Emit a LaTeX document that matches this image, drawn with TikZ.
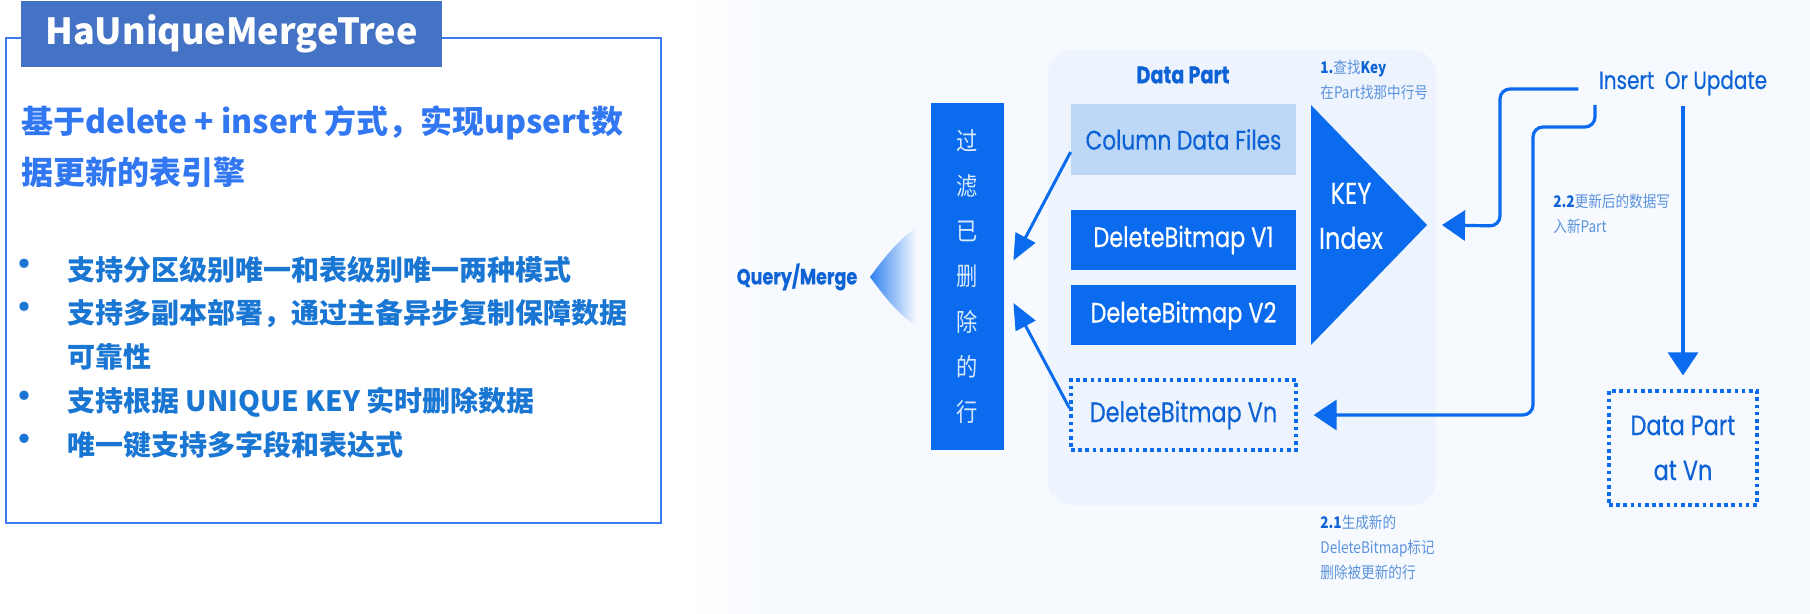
\documentclass[tikz,border=0pt]{standalone}
\usepackage{fontspec}
\setmainfont{Noto Sans CJK SC}
\newfontfamily\dgfont{Poppins}[FakeStretch=0.8, FakeBold=0.4]
\newfontfamily\dgcjk{Noto Sans CJK SC}[FakeStretch=0.85]
\usetikzlibrary{positioning,arrows.meta,calc}
\definecolor{titleblue}{HTML}{4472C4}
\definecolor{frameblue}{HTML}{3B7BEF}
\definecolor{headblue}{HTML}{3277F2}
\definecolor{listblue}{HTML}{1A76D3}
\definecolor{dpblue}{HTML}{0A6BEE}
\definecolor{inkblue}{HTML}{0D63D6}
\definecolor{paleblue}{HTML}{BDD7F6}
\definecolor{partbg}{HTML}{EEF4FD}
\definecolor{bgtint}{HTML}{F6F9FE}
\definecolor{notegrey}{HTML}{5C93DD}
\tikzset{
  titlebox/.style={rectangle, fill=titleblue, text=white, inner sep=0pt,
                   font=\bfseries\fontsize{18}{22}\selectfont,
                   minimum width=210.5pt, minimum height=33pt},
  headtxt/.style={anchor=west, align=left, text=headblue, inner sep=0pt,
                  font=\bfseries\fontsize{16}{25.5}\selectfont},
  itemtxt/.style={anchor=west, align=left, text=listblue, inner sep=0pt,
                  font=\bfseries\fontsize{14}{22}\selectfont},
  dotmark/.style={text=listblue, inner sep=0pt, font=\fontsize{22}{22}\selectfont},
  parttitle/.style={text=inkblue, font=\dgfont\bfseries\fontsize{12}{14}\selectfont},
  lightbox/.style={rectangle, fill=paleblue, text=inkblue, inner sep=0pt,
                   font=\dgfont\fontsize{13.5}{15}\selectfont,
                   minimum width=112.5pt, minimum height=35.5pt},
  solidbox/.style={lightbox, fill=dpblue, text=white, minimum height=30pt, font=\dgfont\fontsize{14}{15}\selectfont},
  dashbox/.style={rectangle, draw=dpblue, line width=1.6pt, dash pattern=on 1.8pt off 1.8pt,
                  text=inkblue, font=\dgfont\fontsize{14}{22.5}\selectfont, align=center,
                  minimum width=112.5pt, minimum height=35pt, inner sep=0pt},
  filterbar/.style={rectangle, fill=dpblue, text=white!85!dpblue, align=center,
                    font=\dgcjk\fontsize{12.5}{22.6}\selectfont,
                    minimum width=36.5pt, minimum height=173.5pt, inner sep=0pt},
  keytxt/.style={text=white, align=center, inner sep=0pt, font=\dgfont\fontsize{15}{22.5}\selectfont},
  note/.style={anchor=west, align=left, text=notegrey, inner sep=0pt,
               font=\dgcjk\fontsize{8}{12.5}\selectfont},
  qmtxt/.style={text=inkblue, font=\dgfont\bfseries\fontsize{11}{13}\selectfont},
  instxt/.style={text=inkblue, inner sep=0pt, font=\dgfont\fontsize{12.5}{14}\selectfont},
  flow/.style={draw=dpblue, line width=1.6pt, rounded corners=5pt,
               -{Triangle[length=11.5pt,width=15pt]}},
  gofilter/.style={draw=dpblue, line width=1.5pt, -{Triangle[length=13pt,width=11pt]}},
}
\begin{document}
\begin{tikzpicture}[x=0.5pt,y=-0.5pt]
  \useasboundingbox (0,0) rectangle (1810,614);

  % diagram background
  \shade[left color=white, right color=bgtint] (690,0) rectangle (780,614);
  \fill[bgtint] (780,0) rectangle (1810,614);

  % left panel
  \draw[frameblue, line width=1pt] (6,38) rectangle (661,523);
  \node[titlebox] (title) at (231.5,34) {HaUniqueMergeTree};
  \node[headtxt] (head) at (21,146.5) {基于delete + insert 方式，实现upsert数\\据更新的表引擎};
  \foreach \y in {270,313,402,445}
    \node[dotmark] (dot\y) at (25,\y) {•};
  \node[itemtxt] (item1) at (67,270) {支持分区级别唯一和表级别唯一两种模式};
  \node[itemtxt] (item2) at (67,335) {支持多副本部署，通过主备异步复制保障数据\\可靠性};
  \node[itemtxt] (item3) at (67,402) {支持根据 UNIQUE KEY 实时删除数据};
  \node[itemtxt] (item4) at (67,445) {唯一键支持多字段和表达式};

  % data part
  \fill[partbg, rounded corners=12pt] (1048,50) rectangle (1436,505);
  \node[parttitle] (dptitle) at (1183,75) {Data Part};
  \node[lightbox] (cdf) at (1183.5,139.5) {Column Data Files};
  \node[solidbox] (dbv1) at (1183.5,240) {DeleteBitmap V1};
  \node[solidbox] (dbv2) at (1183.5,315.5) {DeleteBitmap V2};
  \node[dashbox] (dbvn) at (1183.5,415) {DeleteBitmap Vn};
  \fill[dpblue] (1311,105) -- (1311,345) -- (1427,225) -- cycle;
  \coordinate (keyapex) at (1427,225);
  \node[keytxt] (keyidx) at (1351,216) {KEY\\Index};
  \node[note] (step1) at (1320,79.5) {\textbf{\color{inkblue}1.}查找\textbf{\color{inkblue}Key}\\在Part找那中行号};

  % filter and query
  \node[filterbar] (filt) at (967.5,276.5) {过\\滤\\已\\删\\除\\的\\行};
  \draw[gofilter] ([yshift=-6.25pt]cdf.west) -- ([xshift=4.5pt,yshift=8pt]filt.east);
  \draw[gofilter] ([yshift=3.5pt]dbvn.west) -- ([xshift=4.5pt,yshift=-13.25pt]filt.east);
  \shade[left color=dpblue!85, right color=bgtint] (870,277) .. controls (884,258) and (898,240) .. (916,228)
    -- (916,326) .. controls (898,314) and (884,296) .. (870,277) -- cycle;
  \node[qmtxt] (qm) at (797,277) {Query/Merge};

  % insert or update
  \node[instxt] (ins) at (1683,83) {Insert\ \ Or Update};
  \node[dashbox, minimum width=74pt, minimum height=57pt] (dpv) at (1683,448) {Data Part\\at Vn};
  \draw[flow] ([xshift=-10pt,yshift=-3pt]ins.west) -- (1500,89) -- (1500,226) -- ([xshift=7.5pt]keyapex);
  \draw[flow] (1595,105) -- (1595,127) -- (1533,127) -- (1533,415) -- ([xshift=8pt]dbvn.east);
  \draw[flow] ([yshift=-5pt]ins.south) -- ([yshift=7pt]dpv.north);
  \node[note] (step22) at (1553,214) {\textbf{\color{inkblue}2.2}更新后的数据写\\入新Part};
  \node[note] (step21) at (1320,547) {\textbf{\color{inkblue}2.1}生成新的\\DeleteBitmap标记\\删除被更新的行};
\end{tikzpicture}
\end{document}
